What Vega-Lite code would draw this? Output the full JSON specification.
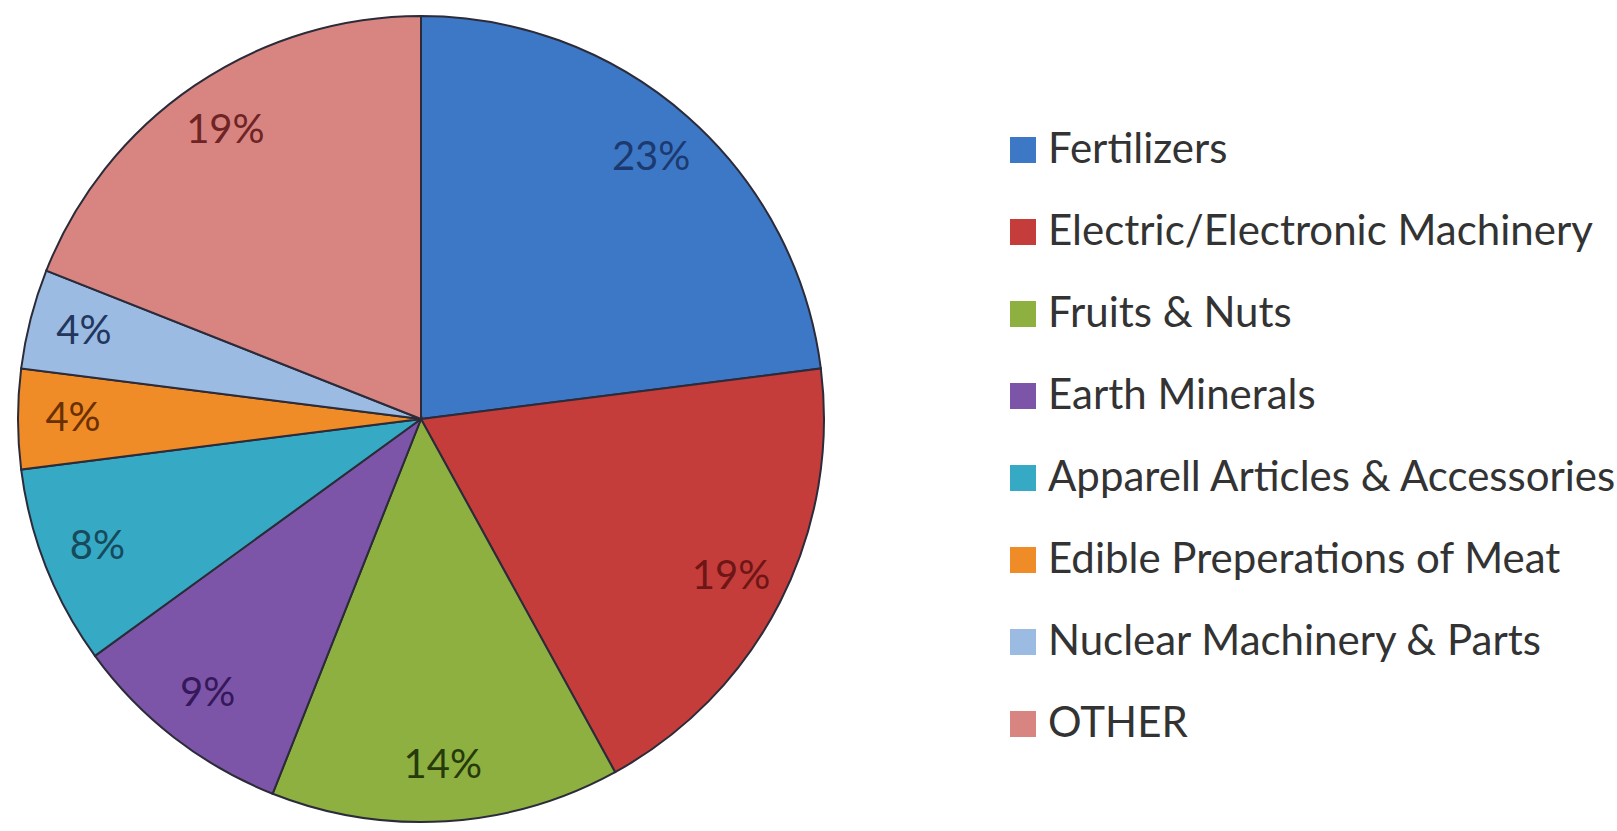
{
  "$schema": "https://vega.github.io/schema/vega-lite/v6.json",
  "width": 842,
  "height": 838,
  "autosize": {"type": "none"},
  "padding": {"left": 0, "top": 0, "right": 775, "bottom": 0},
  "background": "white",
  "config": {"view": {"stroke": null}, "font": "Lato"},
  "data": {
    "values": [
      {"category": "Fertilizers", "share": 23, "label": "23%", "order": 1},
      {"category": "Electric/Electronic Machinery", "share": 19, "label": "19%", "order": 2},
      {"category": "Fruits & Nuts", "share": 14, "label": "14%", "order": 3},
      {"category": "Earth Minerals", "share": 9, "label": "9%", "order": 4},
      {"category": "Apparell Articles & Accessories", "share": 8, "label": "8%", "order": 5},
      {"category": "Edible Preperations of Meat", "share": 4, "label": "4%", "order": 6},
      {"category": "Nuclear Machinery & Parts", "share": 4, "label": "4%", "order": 7},
      {"category": "OTHER", "share": 19, "label": "19%", "order": 8}
    ]
  },
  "encoding": {
    "theta": {"field": "share", "type": "quantitative", "stack": true},
    "order": {"field": "order", "type": "quantitative"}
  },
  "layer": [
    {
      "mark": {"type": "arc", "outerRadius": 403, "stroke": "#2b2b3a", "strokeWidth": 2},
      "encoding": {
        "color": {
          "field": "category",
          "type": "nominal",
          "sort": ["Fertilizers", "Electric/Electronic Machinery", "Fruits & Nuts", "Earth Minerals", "Apparell Articles & Accessories", "Edible Preperations of Meat", "Nuclear Machinery & Parts", "OTHER"],
          "scale": {
            "domain": ["Fertilizers", "Electric/Electronic Machinery", "Fruits & Nuts", "Earth Minerals", "Apparell Articles & Accessories", "Edible Preperations of Meat", "Nuclear Machinery & Parts", "OTHER"],
            "range": ["#3d78c6", "#c43d3a", "#8db040", "#7d55a8", "#36a9c4", "#f08c28", "#9bbbe3", "#d88582"]
          },
          "legend": {
            "title": null,
            "orient": "none",
            "legendX": 1002,
            "legendY": 129,
            "symbolType": "square",
            "symbolSize": 676,
            "symbolStrokeWidth": 0,
            "labelFont": "Lato",
            "labelFontSize": 42,
            "labelColor": "#333333",
            "labelOffset": 4,
            "labelLimit": 700,
            "rowPadding": 40
          }
        }
      }
    },
    {
      "mark": {"type": "text", "radius": 348, "font": "Lato", "fontSize": 40, "baseline": "middle", "align": "center"},
      "encoding": {
        "text": {"field": "label", "type": "nominal"},
        "color": {
          "field": "category",
          "type": "nominal",
          "scale": {
            "domain": ["Fertilizers", "Electric/Electronic Machinery", "Fruits & Nuts", "Earth Minerals", "Apparell Articles & Accessories", "Edible Preperations of Meat", "Nuclear Machinery & Parts", "OTHER"],
            "range": ["#1c3a70", "#6e1616", "#263a0c", "#35185a", "#164a5c", "#6a3000", "#22365e", "#6e2424"]
          },
          "legend": null
        }
      }
    }
  ],
  "resolve": {"scale": {"color": "independent"}, "legend": {"color": "independent"}}
}
